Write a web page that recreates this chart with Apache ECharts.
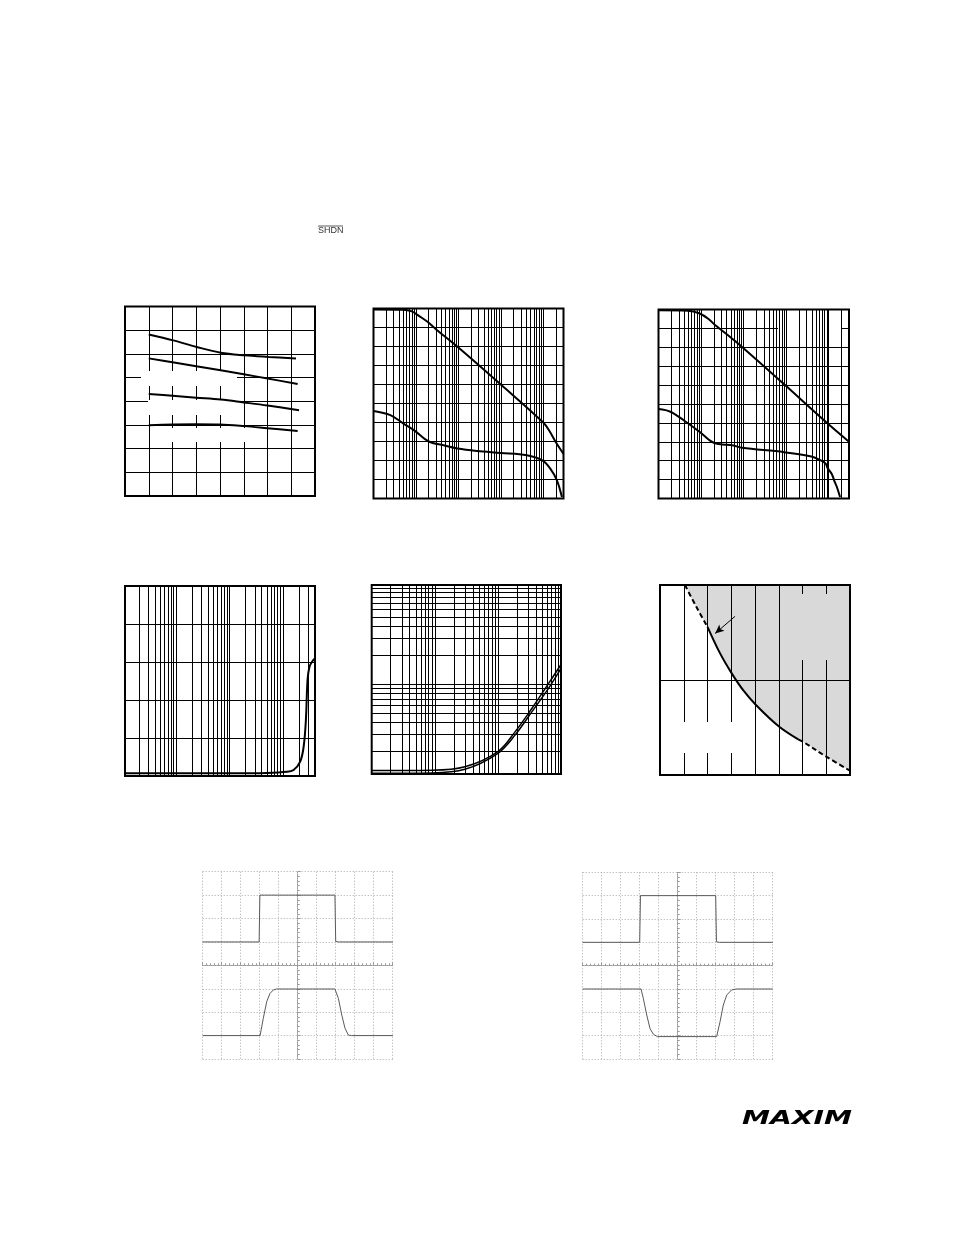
<!DOCTYPE html>
<html><head><meta charset="utf-8">
<script src="https://cdn.jsdelivr.net/npm/echarts@6/dist/echarts.min.js"></script>
<style>html,body{margin:0;padding:0;background:#fff}#c{width:954px;height:1235px}</style>
</head><body><div id="c"></div>
<script>
// ---------- data ----------
// chart 1 (linear 8x8 divisions)
const c1CurveA = [[1,6.82],[2.03,6.57],[3.02,6.29],[4.03,6.05],[5.04,5.94],[6.05,5.87],[7.2,5.8]];
const c1CurveB = [[1,5.81],[2,5.65],[3,5.48],[4.03,5.31],[5,5.14],[6,4.96],[7.27,4.73]];
const c1CurveC = [[1,4.31],[2,4.23],[3,4.15],[4.03,4.07],[5,3.95],[6,3.82],[7.33,3.62]];
const c1CurveD = [[1,2.99],[2,3.02],[3,3.03],[4,3.02],[5.04,2.95],[6,2.86],[7.27,2.74]];
// chart 2 (log frequency, 10 divisions)
const c2Upper = [[1,9.95],[5,9.93],[8,9.85],[10,9.72],[14,9.5],[20,9.25],[30,8.9],[100,7.95],[1000,6.0],[10000,4.0],[14000,3.55],[20000,2.95],[30000,2.35]];
const c2Lower = [[1,4.61],[2.5,4.39],[5,3.95],[9.4,3.56],[20,3.0],[45,2.8],[95,2.63],[273,2.5],[1000,2.4],[4100,2.28],[9500,2.01],[14500,1.59],[21000,0.96],[27500,0.08]];
// chart 3
const c3Upper = [[1,9.96],[5,9.94],[9,9.8],[15,9.5],[22,9.15],[35,8.8],[92,8.02],[860,6.08],[8500,4.06],[30000,3.0]];
const c3Lower = [[1,4.73],[1.9,4.59],[3.9,4.14],[9.2,3.53],[20,2.95],[58,2.8],[92,2.68],[900,2.45],[3900,2.22],[7000,1.98],[8500,1.85],[9500,1.6],[11800,1.3],[14000,0.85],[15500,0.62],[18500,0.08]];
// chart 4 (log x, 5 divisions)
const c4Curve = [[1.1,0.07],[10,0.07],[100,0.07],[500,0.08],[1190,0.11],[1585,0.16],[2113,0.38],[2450,0.77],[2700,1.47],[2900,2.53],[3160,2.88],[3500,3.0],[4000,3.1]];
// chart 5 (log-log)
const c5Upper = [[10,1.27],[90,1.28],[300,1.39],[1000,2.0],[1880,3.22],[3470,5.63],[6370,10.2],[10000,16.0]];
const c5Lower = [[10,1.19],[90,1.2],[300,1.31],[1000,1.92],[1880,2.98],[3470,5.19],[6370,9.1],[10000,14.6]];
// chart 6 (8 x 2 divisions)
const c6Curve = [[1.05,2.0],[1.53,1.77],[2.0,1.56],[2.53,1.28],[3.02,1.07],[3.51,0.89],[4.03,0.74],[5.01,0.51],[5.82,0.375],[6.02,0.35],[7.02,0.19],[8.0,0.046]];
const c6Arrow = [[3.16,1.67],[2.32,1.49]];
// chart 7 / 8 scope traces (divisions, centre = 0)
const c7Top = [[-5,1],[-2.03,1],[-1.99,3],[1.96,3],[2.0,1.02],[2.05,0.94],[2.15,1],[5,1]];
const c7Bottom = [[-5,-3],[-1.98,-3],[-1.81,-2.26],[-1.63,-1.55],[-1.46,-1.2],[-1.28,-1.05],[-1.11,-1.01],[1.96,-1.01],[2.14,-1.41],[2.32,-2.12],[2.49,-2.69],[2.67,-2.98],[2.84,-3],[5,-3]];
const c8Top = [[-5,1],[-2.0,1],[-1.96,3],[2.0,3],[2.04,1.02],[2.09,0.94],[2.2,1],[5,1]];
const c8Bottom = [[-5,-1],[-1.93,-1],[-1.81,-1.4],[-1.63,-2.11],[-1.46,-2.69],[-1.28,-2.94],[-1.07,-3.04],[2.05,-3.04],[2.23,-2.4],[2.4,-1.69],[2.58,-1.26],[2.84,-1.04],[3.1,-1],[5,-1]];

// ---------- helpers ----------
function logGrid(min, max) {
  const out = [];
  for (let d = -2; d < 6; d++) for (let k = 1; k < 10; k++) {
    const v = k * Math.pow(10, d);
    if (v > min * 1.001 && v < max * 0.999) out.push(v);
  }
  return out;
}
const noAx = {axisLabel:{show:false}, axisTick:{show:false}, axisLine:{show:false}};
function linAxis(gi, min, max, interval) {
  return Object.assign({gridIndex:gi, type:'value', min, max, interval, z:1,
    splitLine:{show:true, showMinLine:false, showMaxLine:false, lineStyle:{color:'#000', width:1}}}, noAx);
}
function logAxis(gi, min, max) {
  return Object.assign({gridIndex:gi, type:'log', logBase:10, min, max, z:1, splitLine:{show:false}}, noAx);
}
function scopeAxis(gi, min, max) {
  return {gridIndex:gi, type:'value', min, max, interval:1, z:1,
    axisLabel:{show:false},
    axisLine:{show:true, onZero:true, lineStyle:{color:'#999', width:1, type:[1,1]}},
    axisTick:{show:true, inside:true, length:3, lineStyle:{color:'#999'}},
    minorTick:{show:true, splitNumber:5, length:2, lineStyle:{color:'#999'}},
    splitLine:{show:true, lineStyle:{color:'#aaa', width:1, type:[1,2]}}};
}
function gridLines(xi, xVals, yVals) {
  return {type:'line', xAxisIndex:xi, yAxisIndex:xi, data:[], z:1, silent:true,
    markLine:{silent:true, symbol:['none','none'], animation:false, label:{show:false},
      lineStyle:{color:'#000', width:1, type:'solid'}, emphasis:{disabled:true},
      data:[...xVals.map(v => ({xAxis:v})), ...yVals.map(v => ({yAxis:v}))]}};
}
function curve(xi, data, extra) {
  return Object.assign({type:'line', xAxisIndex:xi, yAxisIndex:xi, data, smooth:0.35, showSymbol:false,
    symbol:'none', z:3, silent:true, lineStyle:{color:'#000', width:2}}, extra || {});
}
function trace(xi, data) {
  return {type:'line', xAxisIndex:xi, yAxisIndex:xi, data, smooth:false, symbol:'none', z:3, silent:true,
    lineStyle:{color:'#5a5a5a', width:1}};
}
function whiteRect(x, y, w, h, fill) {
  return {type:'rect', z:1.5, silent:true, shape:{x, y, width:w, height:h}, style:{fill: fill || '#fff'}};
}

const boxGrid = {show:true, borderColor:'#000', borderWidth:2, backgroundColor:'transparent', z:1};
const grids = [
  Object.assign({left:125, top:306.5, width:190, height:189.5}, boxGrid),
  Object.assign({left:373.5, top:308.5, width:190, height:190}, boxGrid),
  Object.assign({left:658.5, top:309.5, width:190.5, height:189}, boxGrid),
  Object.assign({left:125, top:586, width:190, height:190}, boxGrid),
  Object.assign({left:371.7, top:585, width:189.3, height:189}, boxGrid),
  Object.assign({left:660, top:585, width:190, height:190}, boxGrid),
  {left:202.7, top:871.7, width:190, height:187.3, show:false},
  {left:582.7, top:872.3, width:190, height:186.7, show:false}
];

const xAxes = [
  linAxis(0, 0, 8, 1), logAxis(1, 1, 30000), logAxis(2, 1, 30000), logAxis(3, 1.1, 4000),
  logAxis(4, 10, 10000), linAxis(5, 0, 8, 1), scopeAxis(6, -5, 5), scopeAxis(7, -5, 5)
];
const yAxes = [
  linAxis(0, 0, 8, 1), linAxis(1, 0, 10, 1), linAxis(2, 0, 10, 1), linAxis(3, 0, 5, 1),
  logAxis(4, 1.17, 107), linAxis(5, 0, 2, 1), scopeAxis(6, -4, 4), scopeAxis(7, -4, 4)
];

const series = [
  curve(0, c1CurveA), curve(0, c1CurveB), curve(0, c1CurveC), curve(0, c1CurveD),
  gridLines(1, logGrid(1, 30000), []), curve(1, c2Upper), curve(1, c2Lower),
  gridLines(2, logGrid(1, 30000), []), curve(2, c3Upper), curve(2, c3Lower),
  gridLines(3, logGrid(1.1, 4000), []), curve(3, c4Curve),
  gridLines(4, logGrid(10, 10000), logGrid(1.17, 107)),
  curve(4, c5Upper, {lineStyle:{color:'#000', width:1.5}}), curve(4, c5Lower, {lineStyle:{color:'#000', width:1.5}}),
  // chart 6: shaded area + dashed/solid boundary + arrow
  curve(5, c6Curve, {z:0, lineStyle:{width:0, opacity:0}, areaStyle:{color:'#d9d9d9', opacity:1, origin:'end'}}),
  curve(5, c6Curve.slice(0, 3), {lineStyle:{color:'#000', width:2, type:[5,3]}}),
  curve(5, c6Curve.slice(2, 9), {lineStyle:{color:'#000', width:2}}),
  curve(5, c6Curve.slice(8), {lineStyle:{color:'#000', width:2, type:[5,3]}}),
  {type:'line', xAxisIndex:5, yAxisIndex:5, data:[], z:3, silent:true,
    markLine:{silent:true, animation:false, symbol:['none','arrow'], symbolSize:[6,9], label:{show:false},
      lineStyle:{color:'#000', width:1, type:'solid'},
      data:[[{coord:c6Arrow[0]}, {coord:c6Arrow[1]}]]}},
  trace(6, c7Top), trace(6, c7Bottom), trace(7, c8Top), trace(7, c8Bottom)
];

const graphic = [
  // label backgrounds that interrupt the grid lines
  whiteRect(141, 371, 96, 15),
  whiteRect(148, 400, 89, 15),
  whiteRect(152, 428, 95, 14),
  whiteRect(490, 310.5, 55, 15.5),
  whiteRect(778, 315, 63, 17.5),
  whiteRect(252, 595, 55, 14),
  whiteRect(437, 738, 51, 15),
  whiteRect(517, 752, 35, 16),
  whiteRect(675, 722, 63, 31),
  whiteRect(782, 594, 52, 66, '#d9d9d9'),
  // page text
  {type:'text', z:5, x:318, y:231, style:{text:'SHDN', font:'9px "Liberation Sans", Arial, sans-serif', fill:'#333', verticalAlign:'middle'}},
  {type:'line', z:5, shape:{x1:318, y1:226, x2:343, y2:226}, style:{stroke:'#333', lineWidth:0.8}},
  {type:'text', z:5, x:742, y:1119, scaleX:1.48, scaleY:1, style:{text:'MAXIM', font:'italic bold 19px "DejaVu Sans", sans-serif', fill:'#000', verticalAlign:'middle'}}
];

const chart = echarts.init(document.getElementById('c'));
chart.setOption({
  animation:false,
  backgroundColor:'#fff',
  grid:grids, xAxis:xAxes, yAxis:yAxes, series, graphic
});
</script>
</body></html>
